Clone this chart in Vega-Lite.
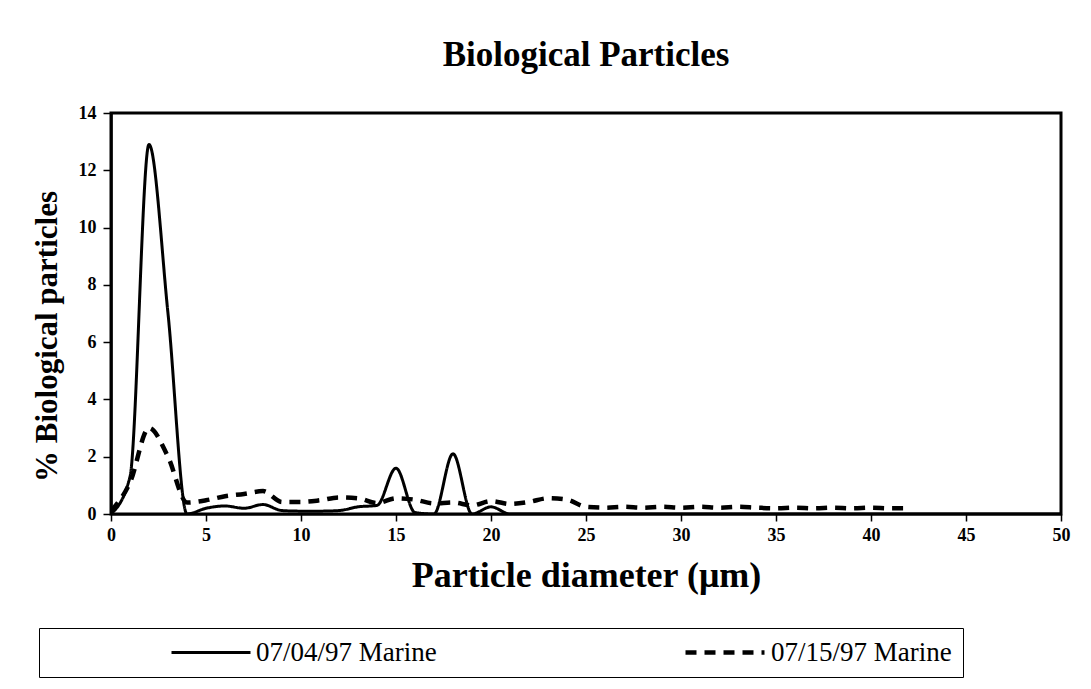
{
  "$schema": "https://vega.github.io/schema/vega-lite/v6.json",
  "width": 950,
  "height": 401,
  "autosize": {"type": "none"},
  "padding": {"left": 111, "top": 113, "right": 30, "bottom": 175},
  "background": "white",
  "title": {
    "text": "Biological Particles",
    "font": "Liberation Serif",
    "fontSize": 35,
    "fontWeight": "bold",
    "color": "black",
    "anchor": "middle",
    "offset": 31
  },
  "data": {
    "values": [
      {"d": 0, "pct": 0.0, "series": "07/04/97 Marine"},
      {"d": 1, "pct": 1.3, "series": "07/04/97 Marine"},
      {"d": 2, "pct": 12.9, "series": "07/04/97 Marine"},
      {"d": 3, "pct": 7.0, "series": "07/04/97 Marine"},
      {"d": 4, "pct": 0.0, "series": "07/04/97 Marine"},
      {"d": 5, "pct": 0.2, "series": "07/04/97 Marine"},
      {"d": 6, "pct": 0.28, "series": "07/04/97 Marine"},
      {"d": 7, "pct": 0.2, "series": "07/04/97 Marine"},
      {"d": 8, "pct": 0.33, "series": "07/04/97 Marine"},
      {"d": 9, "pct": 0.12, "series": "07/04/97 Marine"},
      {"d": 10, "pct": 0.1, "series": "07/04/97 Marine"},
      {"d": 11, "pct": 0.1, "series": "07/04/97 Marine"},
      {"d": 12, "pct": 0.12, "series": "07/04/97 Marine"},
      {"d": 13, "pct": 0.25, "series": "07/04/97 Marine"},
      {"d": 14, "pct": 0.3, "series": "07/04/97 Marine"},
      {"d": 15, "pct": 1.6, "series": "07/04/97 Marine"},
      {"d": 16, "pct": 0.05, "series": "07/04/97 Marine"},
      {"d": 17, "pct": 0.0, "series": "07/04/97 Marine"},
      {"d": 18, "pct": 2.1, "series": "07/04/97 Marine"},
      {"d": 19, "pct": 0.0, "series": "07/04/97 Marine"},
      {"d": 20, "pct": 0.25, "series": "07/04/97 Marine"},
      {"d": 21, "pct": 0.0, "series": "07/04/97 Marine"},
      {"d": 22, "pct": 0.0, "series": "07/04/97 Marine"},
      {"d": 23, "pct": 0.0, "series": "07/04/97 Marine"},
      {"d": 24, "pct": 0.0, "series": "07/04/97 Marine"},
      {"d": 25, "pct": 0.0, "series": "07/04/97 Marine"},
      {"d": 26, "pct": 0.0, "series": "07/04/97 Marine"},
      {"d": 27, "pct": 0.0, "series": "07/04/97 Marine"},
      {"d": 28, "pct": 0.0, "series": "07/04/97 Marine"},
      {"d": 29, "pct": 0.0, "series": "07/04/97 Marine"},
      {"d": 30, "pct": 0.0, "series": "07/04/97 Marine"},
      {"d": 31, "pct": 0.0, "series": "07/04/97 Marine"},
      {"d": 32, "pct": 0.0, "series": "07/04/97 Marine"},
      {"d": 33, "pct": 0.0, "series": "07/04/97 Marine"},
      {"d": 34, "pct": 0.0, "series": "07/04/97 Marine"},
      {"d": 35, "pct": 0.0, "series": "07/04/97 Marine"},
      {"d": 36, "pct": 0.0, "series": "07/04/97 Marine"},
      {"d": 37, "pct": 0.0, "series": "07/04/97 Marine"},
      {"d": 38, "pct": 0.0, "series": "07/04/97 Marine"},
      {"d": 39, "pct": 0.0, "series": "07/04/97 Marine"},
      {"d": 40, "pct": 0.0, "series": "07/04/97 Marine"},
      {"d": 41, "pct": 0.0, "series": "07/04/97 Marine"},
      {"d": 42, "pct": 0.0, "series": "07/04/97 Marine"},
      {"d": 43, "pct": 0.0, "series": "07/04/97 Marine"},
      {"d": 44, "pct": 0.0, "series": "07/04/97 Marine"},
      {"d": 45, "pct": 0.0, "series": "07/04/97 Marine"},
      {"d": 46, "pct": 0.0, "series": "07/04/97 Marine"},
      {"d": 47, "pct": 0.0, "series": "07/04/97 Marine"},
      {"d": 48, "pct": 0.0, "series": "07/04/97 Marine"},
      {"d": 49, "pct": 0.0, "series": "07/04/97 Marine"},
      {"d": 50, "pct": 0.0, "series": "07/04/97 Marine"},
      {"d": 0, "pct": 0.1, "series": "07/15/97 Marine"},
      {"d": 1, "pct": 1.1, "series": "07/15/97 Marine"},
      {"d": 2, "pct": 3.0, "series": "07/15/97 Marine"},
      {"d": 3, "pct": 2.0, "series": "07/15/97 Marine"},
      {"d": 4, "pct": 0.4, "series": "07/15/97 Marine"},
      {"d": 5, "pct": 0.48, "series": "07/15/97 Marine"},
      {"d": 6, "pct": 0.62, "series": "07/15/97 Marine"},
      {"d": 7, "pct": 0.7, "series": "07/15/97 Marine"},
      {"d": 8, "pct": 0.8, "series": "07/15/97 Marine"},
      {"d": 9, "pct": 0.42, "series": "07/15/97 Marine"},
      {"d": 10, "pct": 0.42, "series": "07/15/97 Marine"},
      {"d": 11, "pct": 0.48, "series": "07/15/97 Marine"},
      {"d": 12, "pct": 0.58, "series": "07/15/97 Marine"},
      {"d": 13, "pct": 0.55, "series": "07/15/97 Marine"},
      {"d": 14, "pct": 0.38, "series": "07/15/97 Marine"},
      {"d": 15, "pct": 0.55, "series": "07/15/97 Marine"},
      {"d": 16, "pct": 0.5, "series": "07/15/97 Marine"},
      {"d": 17, "pct": 0.37, "series": "07/15/97 Marine"},
      {"d": 18, "pct": 0.4, "series": "07/15/97 Marine"},
      {"d": 19, "pct": 0.3, "series": "07/15/97 Marine"},
      {"d": 20, "pct": 0.45, "series": "07/15/97 Marine"},
      {"d": 21, "pct": 0.35, "series": "07/15/97 Marine"},
      {"d": 22, "pct": 0.42, "series": "07/15/97 Marine"},
      {"d": 23, "pct": 0.55, "series": "07/15/97 Marine"},
      {"d": 24, "pct": 0.5, "series": "07/15/97 Marine"},
      {"d": 25, "pct": 0.25, "series": "07/15/97 Marine"},
      {"d": 26, "pct": 0.22, "series": "07/15/97 Marine"},
      {"d": 27, "pct": 0.25, "series": "07/15/97 Marine"},
      {"d": 28, "pct": 0.22, "series": "07/15/97 Marine"},
      {"d": 29, "pct": 0.25, "series": "07/15/97 Marine"},
      {"d": 30, "pct": 0.22, "series": "07/15/97 Marine"},
      {"d": 31, "pct": 0.25, "series": "07/15/97 Marine"},
      {"d": 32, "pct": 0.22, "series": "07/15/97 Marine"},
      {"d": 33, "pct": 0.25, "series": "07/15/97 Marine"},
      {"d": 34, "pct": 0.22, "series": "07/15/97 Marine"},
      {"d": 35, "pct": 0.2, "series": "07/15/97 Marine"},
      {"d": 36, "pct": 0.22, "series": "07/15/97 Marine"},
      {"d": 37, "pct": 0.2, "series": "07/15/97 Marine"},
      {"d": 38, "pct": 0.22, "series": "07/15/97 Marine"},
      {"d": 39, "pct": 0.2, "series": "07/15/97 Marine"},
      {"d": 40, "pct": 0.22, "series": "07/15/97 Marine"},
      {"d": 41, "pct": 0.2, "series": "07/15/97 Marine"},
      {"d": 42, "pct": 0.2, "series": "07/15/97 Marine"}
    ]
  },
  "mark": {"type": "line", "interpolate": "monotone", "color": "black", "clip": true},
  "encoding": {
    "x": {
      "field": "d",
      "type": "quantitative",
      "scale": {"domain": [0, 50], "nice": false, "zero": true},
      "axis": {
        "title": "Particle diameter (μm)",
        "values": [0, 5, 10, 15, 20, 25, 30, 35, 40, 45, 50],
        "grid": false,
        "domainColor": "black",
        "domainWidth": 2,
        "tickColor": "black",
        "tickWidth": 1.5,
        "tickSize": 7,
        "labelFont": "Liberation Serif",
        "labelFontWeight": "bold",
        "labelFontSize": 18,
        "labelColor": "black",
        "labelPadding": 5,
        "labelFlush": false,
        "titleFont": "Liberation Serif",
        "titleFontWeight": "bold",
        "titleFontSize": 36,
        "titleColor": "black",
        "titleBaseline": "middle",
        "titleY": 61
      }
    },
    "y": {
      "field": "pct",
      "type": "quantitative",
      "scale": {"domain": [0, 14], "nice": false},
      "axis": {
        "title": "% Biological particles",
        "values": [0, 2, 4, 6, 8, 10, 12, 14],
        "grid": false,
        "domainColor": "black",
        "domainWidth": 2.5,
        "tickColor": "black",
        "tickWidth": 1.5,
        "tickSize": 8,
        "labelFont": "Liberation Serif",
        "labelFontWeight": "bold",
        "labelFontSize": 18,
        "labelColor": "black",
        "labelPadding": 7,
        "labelFlush": false,
        "titleFont": "Liberation Serif",
        "titleFontWeight": "bold",
        "titleFontSize": 31,
        "titleColor": "black",
        "titleAngle": 270,
        "titleAlign": "center",
        "titleBaseline": "middle",
        "titleX": -64,
        "titleY": 223
      }
    },
    "strokeDash": {
      "field": "series",
      "type": "nominal",
      "scale": {"domain": ["07/04/97 Marine", "07/15/97 Marine"], "range": [[1, 0], [11, 8]]},
      "legend": {
        "title": null,
        "orient": "none",
        "direction": "horizontal",
        "legendX": -72,
        "legendY": 515,
        "strokeColor": "black",
        "padding": 11,
        "clipHeight": 27,
        "symbolType": "stroke",
        "symbolSize": 6241,
        "symbolStrokeWidth": 3,
        "symbolStrokeColor": "black",
        "symbolOffset": 120,
        "labelOffset": 4,
        "labelFont": "Liberation Serif",
        "labelFontSize": 27,
        "labelColor": "black",
        "labelLimit": 400,
        "columnPadding": 126
      }
    },
    "strokeWidth": {
      "field": "series",
      "type": "nominal",
      "scale": {"domain": ["07/04/97 Marine", "07/15/97 Marine"], "range": [3, 4.5]},
      "legend": null
    }
  },
  "config": {
    "view": {"stroke": "black", "strokeWidth": 3},
    "font": "Liberation Serif"
  }
}
